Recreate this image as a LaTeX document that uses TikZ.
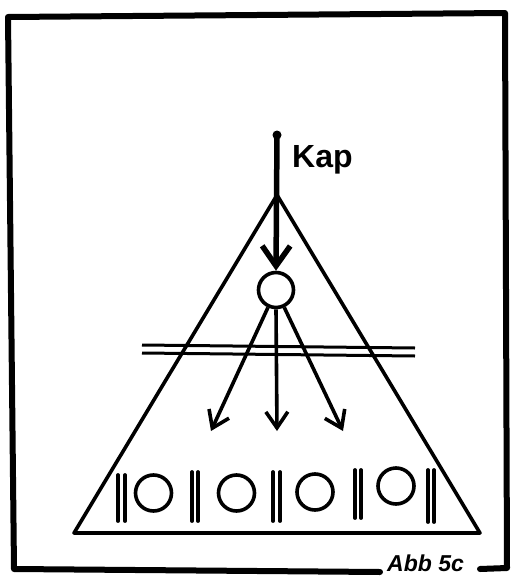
\documentclass[tikz,border=0pt]{standalone}
\usepackage{fontspec}
\setmainfont{Liberation Sans}
\usetikzlibrary{arrows.meta}
\begin{document}
\begin{tikzpicture}[x=1pt,y=-1pt,
  frameline/.style={line width=6pt,line join=round,line cap=round},
  triline/.style={line width=3.6pt,line join=round,line cap=round},
  ring/.style={circle,draw,line width=3.6pt,minimum size=36pt,inner sep=0pt},
  bar/.style={line width=3.8pt,line cap=round},
  smallarrow/.style={line width=3.6pt,-{Straight Barb[length=16pt,width=22pt,line width=3.6pt]}},
  bigarrow/.style={line width=5.5pt,-{Straight Barb[length=20pt,width=28pt,line width=5.5pt]}}
]
\useasboundingbox[fill=white] (0,0) rectangle (511,576);
% frame
\draw[frameline] (380,572) -- (14,569) -- (8,17) -- (505,13) -- (507,568) -- (480,569);
\node[anchor=base west,inner sep=0pt,text depth=0pt,font=\fontsize{23}{25}\selectfont\bfseries\itshape] (abb) at (387,571) {Abb 5c};
% triangle
\coordinate (apex) at (277,195);
\coordinate (bl) at (74,533);
\coordinate (br) at (480,533);
\draw[triline] (apex) -- (bl) -- (br) -- cycle;
% double line
\draw[line width=3pt] (142,345) -- (415,348);
\draw[line width=3pt] (142,353) -- (415,356);
% central circle and Kap arrow
\node[ring,minimum size=35pt] (c) at (276,290) {};
\coordinate (top) at (277,135);
\fill (top) circle (4.5pt);
\draw[bigarrow] (top) -- (c.north);
\node[anchor=base west,inner sep=0pt,font=\fontsize{32}{36}\selectfont\bfseries] (kap) at (292,167) {Kap};
% three arrows
\coordinate (t1) at (211,431);
\coordinate (t2) at (277,431);
\coordinate (t3) at (343,431);
\draw[smallarrow] (c) -- (t1);
\draw[smallarrow] (c.south) -- (t2);
\draw[smallarrow] (c) -- (t3);
% bottom row
\node[ring] (r1) at (153.5,493) {};
\node[ring] (r2) at (236.5,493) {};
\node[ring] (r3) at (315,492) {};
\node[ring] (r4) at (396,486) {};
\foreach \x/\ya/\yb in {118/475/521, 125/475/521, 192/472/521, 198/472/521, 273/472/521, 280/472/521, 355/470/518, 361/470/518, 428/470/522, 434/470/522}
  \draw[bar] (\x,\ya) -- (\x,\yb);
\end{tikzpicture}
\end{document}
